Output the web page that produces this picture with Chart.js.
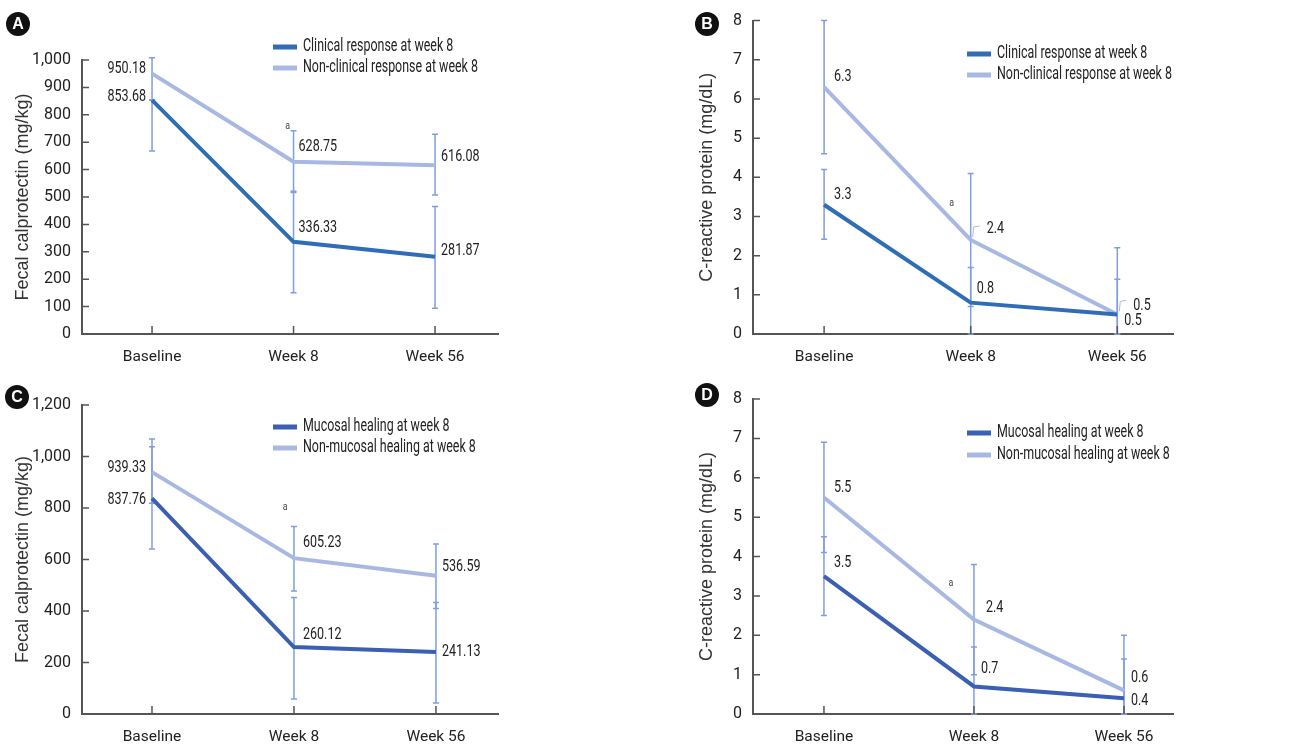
<!DOCTYPE html>
<html>
<head>
<meta charset="utf-8">
<script src="https://cdn.jsdelivr.net/npm/chart.js@4.4.0/dist/chart.umd.min.js"></script>
<style>
  body { margin: 0; background: #fff; }
  .panel { position: absolute; }
</style>
</head>
<body>
<div class="panel" style="left:0;top:0"><canvas id="panel-a" width="660" height="375"></canvas></div>
<div class="panel" style="left:660px;top:0"><canvas id="panel-b" width="654" height="375"></canvas></div>
<div class="panel" style="left:0;top:375px"><canvas id="panel-c" width="660" height="375"></canvas></div>
<div class="panel" style="left:660px;top:375px"><canvas id="panel-d" width="654" height="375"></canvas></div>
<script>
const timepoints = ['Baseline', 'Week 8', 'Week 56'];

// A: fecal calprotectin by clinical response
const fcClinical = [853.68, 336.33, 281.87];
const fcNonClinical = [950.18, 628.75, 616.08];
const fcClinicalErr = [[668, 853], [151, 521], [94, 465]];
const fcNonClinicalErr = [[854, 1008], [516, 742], [507, 729]];

// B: CRP by clinical response
const crpClinical = [3.3, 0.8, 0.5];
const crpNonClinical = [6.3, 2.4, 0.5];
const crpClinicalErr = [[2.42, 4.2], [0, 1.7], [0, 1.4]];
const crpNonClinicalErr = [[4.6, 8.0], [0.7, 4.1], [0, 2.2]];

// C: fecal calprotectin by mucosal healing
const fcMucosal = [837.76, 260.12, 241.13];
const fcNonMucosal = [939.33, 605.23, 536.59];
const fcMucosalErr = [[641, 1038], [58, 452], [43, 433]];
const fcNonMucosalErr = [[818, 1068], [478, 728], [410, 660]];

// D: CRP by mucosal healing
const crpMucosal = [3.5, 0.7, 0.4];
const crpNonMucosal = [5.5, 2.4, 0.6];
const crpMucosalErr = [[2.5, 4.5], [0, 1.7], [0, 1.4]];
const crpNonMucosalErr = [[4.1, 6.9], [1.0, 3.8], [0, 2.0]];

const SANS = "Roboto, 'Liberation Sans', sans-serif";
const REGULAR = "'Liberation Sans', Arial, sans-serif";
const LIGHT = '#a7b8e2';
const ERR = '#7f9ee0';
const AXIS = '#555555';
const TEXT = '#222222';

// the source font is a condensed gothic, so squeeze drawn text sideways
function narrowText(ctx, text, x, y, align, k) {
  ctx.save();
  ctx.translate(x, y);
  ctx.scale(k, 1);
  ctx.textAlign = align;
  ctx.fillText(text, 0, 0);
  ctx.restore();
}

const panelDecor = {
  id: 'panelDecor',
  beforeDatasetsDraw(chart) {
    const {ctx, scales: {x, y}} = chart;
    ctx.save();
    ctx.strokeStyle = ERR;
    ctx.lineWidth = 1.5;
    chart.data.datasets.forEach(ds => {
      (ds.errorBars || []).forEach((r, i) => {
        const px = x.getPixelForValue(i);
        const y1 = y.getPixelForValue(r[0]);
        const y2 = y.getPixelForValue(r[1]);
        ctx.beginPath();
        ctx.moveTo(px, y1); ctx.lineTo(px, y2);
        ctx.moveTo(px - 3, y1); ctx.lineTo(px + 3, y1);
        ctx.moveTo(px - 3, y2); ctx.lineTo(px + 3, y2);
        ctx.stroke();
      });
    });
    ctx.restore();
  },
  afterDraw(chart, args, opts) {
    const {ctx, scales: {x, y}, chartArea} = chart;
    ctx.save();

    // inward tick marks
    ctx.strokeStyle = AXIS;
    ctx.lineWidth = 1.5;
    ctx.beginPath();
    y.ticks.forEach(t => {
      const py = y.getPixelForValue(t.value);
      ctx.moveTo(chartArea.left, py); ctx.lineTo(chartArea.left + 7, py);
    });
    x.ticks.forEach(t => {
      const px = x.getPixelForValue(t.value);
      ctx.moveTo(px, chartArea.bottom); ctx.lineTo(px, chartArea.bottom - 8);
    });
    ctx.stroke();

    // value labels
    ctx.font = '16.5px ' + SANS;
    ctx.fillStyle = TEXT;
    ctx.textBaseline = 'middle';
    opts.labels.forEach(l => {
      const ds = chart.data.datasets[l.ds];
      const v = ds.data[l.i].y;
      const px = x.getPixelForValue(l.i);
      const py = y.getPixelForValue(v);
      narrowText(ctx, v.toFixed(opts.digits), px + l.dx, py + l.dy, l.align || 'left', 0.76);
      if (l.leader) {
        ctx.strokeStyle = LIGHT;
        ctx.lineWidth = 1;
        ctx.beginPath();
        ctx.moveTo(px + 2, py - 3);
        ctx.lineTo(px + 3, py - 13);
        ctx.lineTo(px + 9, py - 14);
        ctx.stroke();
      }
    });

    // significance mark
    ctx.font = '11px ' + SANS;
    ctx.fillStyle = '#444';
    narrowText(ctx, 'a', x.getPixelForValue(opts.note.x), y.getPixelForValue(opts.note.y), 'center', 0.8);

    // legend
    const lg = opts.legend;
    chart.data.datasets.forEach((ds, k) => {
      const ly = lg.y + k * lg.gap;
      ctx.strokeStyle = ds.borderColor;
      ctx.lineWidth = 5;
      ctx.beginPath();
      ctx.moveTo(lg.x, ly); ctx.lineTo(lg.x + 24, ly);
      ctx.stroke();
      ctx.font = '17.5px ' + SANS;
      ctx.fillStyle = TEXT;
      narrowText(ctx, ds.label, lg.x + 30, ly, 'left', 0.71);
    });

    // panel letter
    const lt = opts.letter;
    ctx.fillStyle = '#111';
    ctx.beginPath();
    ctx.arc(lt.x, lt.y, 12, 0, Math.PI * 2);
    ctx.fill();
    ctx.fillStyle = '#fff';
    ctx.font = 'bold 16px ' + REGULAR;
    ctx.textAlign = 'center';
    ctx.fillText(lt.text, lt.x, lt.y + 1);
    ctx.restore();
  }
};

function makePanel(id, p) {
  return new Chart(document.getElementById(id), {
    type: 'line',
    data: {
      datasets: p.series.map(s => ({
        label: s.label,
        data: s.values.map((v, i) => ({x: i, y: v})),
        errorBars: s.err,
        borderColor: s.color,
        borderWidth: 4,
        pointRadius: 0,
        tension: 0,
        fill: false
      }))
    },
    options: {
      responsive: false,
      animation: false,
      layout: { padding: { left: 0, top: p.top, right: p.right, bottom: 0 } },
      scales: {
        x: {
          type: 'linear',
          min: p.xMin,
          max: p.xMax,
          afterBuildTicks: s => { s.ticks = timepoints.map((t, i) => ({value: i})); },
          afterFit: s => { s.height = p.xHeight; },
          ticks: {
            callback: v => timepoints[v],
            font: { family: SANS, size: 15.5 },
            color: TEXT,
            padding: 14,
            maxRotation: 0
          },
          grid: { display: false, drawTicks: false },
          border: { display: true, color: AXIS, width: 2 }
        },
        y: {
          min: 0,
          max: p.yMax,
          afterFit: s => { s.width = p.yWidth; },
          ticks: {
            stepSize: p.yStep,
            callback: v => v.toLocaleString('en-US'),
            font: { family: SANS, size: 16 },
            color: TEXT,
            padding: 11
          },
          grid: { display: false, drawTicks: false },
          border: { display: true, color: AXIS, width: 2 },
          title: {
            display: true,
            text: p.title,
            font: { family: REGULAR, size: 18 },
            color: '#333',
            padding: { top: p.titlePad, bottom: 0 }
          }
        }
      },
      plugins: {
        legend: { display: false },
        tooltip: { enabled: false },
        panelDecor: {
          labels: p.labels,
          digits: p.digits,
          note: p.note,
          legend: p.legend,
          letter: p.letter
        }
      }
    },
    plugins: [panelDecor]
  });
}

makePanel('panel-a', {
  series: [
    { label: 'Clinical response at week 8', values: fcClinical, err: fcClinicalErr, color: '#2f6db6' },
    { label: 'Non-clinical response at week 8', values: fcNonClinical, err: fcNonClinicalErr, color: LIGHT }
  ],
  top: 60, right: 162, xHeight: 41, yWidth: 82,
  xMin: -0.495, xMax: 2.445, yMax: 1000, yStep: 100,
  title: 'Fecal calprotectin (mg/kg)', titlePad: 12, digits: 2,
  labels: [
    { ds: 1, i: 0, dx: -6, dy: -5, align: 'right' },
    { ds: 0, i: 0, dx: -6, dy: -3, align: 'right' },
    { ds: 1, i: 1, dx: 5, dy: -15 },
    { ds: 0, i: 1, dx: 5, dy: -14 },
    { ds: 1, i: 2, dx: 6, dy: -8 },
    { ds: 0, i: 2, dx: 6, dy: -6 }
  ],
  note: { x: 0.958, y: 759 },
  legend: { x: 273, y: 47, gap: 21 },
  letter: { x: 18, y: 24, text: 'A' }
});

makePanel('panel-b', {
  series: [
    { label: 'Clinical response at week 8', values: crpClinical, err: crpClinicalErr, color: '#2f6db6' },
    { label: 'Non-clinical response at week 8', values: crpNonClinical, err: crpNonClinicalErr, color: LIGHT }
  ],
  top: 20, right: 141, xHeight: 41, yWidth: 93,
  xMin: -0.485, xMax: 2.38, yMax: 8, yStep: 1,
  title: 'C-reactive protein (mg/dL)', titlePad: 36, digits: 1,
  labels: [
    { ds: 1, i: 0, dx: 10, dy: -10 },
    { ds: 0, i: 0, dx: 10, dy: -10 },
    { ds: 1, i: 1, dx: 16, dy: -11, leader: true },
    { ds: 0, i: 1, dx: 6, dy: -14 },
    { ds: 1, i: 2, dx: 16, dy: -9, leader: true },
    { ds: 0, i: 2, dx: 7, dy: 6 }
  ],
  note: { x: 0.87, y: 3.34 },
  legend: { x: 307, y: 54, gap: 21 },
  letter: { x: 47, y: 24, text: 'B' }
});

makePanel('panel-c', {
  series: [
    { label: 'Mucosal healing at week 8', values: fcMucosal, err: fcMucosalErr, color: '#3b5fb2' },
    { label: 'Non-mucosal healing at week 8', values: fcNonMucosal, err: fcNonMucosalErr, color: LIGHT }
  ],
  top: 30, right: 162, xHeight: 36, yWidth: 82,
  xMin: -0.493, xMax: 2.437, yMax: 1200, yStep: 200,
  title: 'Fecal calprotectin (mg/kg)', titlePad: 12, digits: 2,
  labels: [
    { ds: 1, i: 0, dx: -6, dy: -4, align: 'right' },
    { ds: 0, i: 0, dx: -6, dy: 2, align: 'right' },
    { ds: 1, i: 1, dx: 9, dy: -15 },
    { ds: 0, i: 1, dx: 9, dy: -12 },
    { ds: 1, i: 2, dx: 6, dy: -9 },
    { ds: 0, i: 2, dx: 6, dy: 0 }
  ],
  note: { x: 0.937, y: 804 },
  legend: { x: 273, y: 52, gap: 21 },
  letter: { x: 17, y: 22, text: 'C' }
});

makePanel('panel-d', {
  series: [
    { label: 'Mucosal healing at week 8', values: crpMucosal, err: crpMucosalErr, color: '#3b5fb2' },
    { label: 'Non-mucosal healing at week 8', values: crpNonMucosal, err: crpNonMucosalErr, color: LIGHT }
  ],
  top: 24, right: 141, xHeight: 36, yWidth: 93,
  xMin: -0.473, xMax: 2.327, yMax: 8, yStep: 1,
  title: 'C-reactive protein (mg/dL)', titlePad: 36, digits: 1,
  labels: [
    { ds: 1, i: 0, dx: 10, dy: -10 },
    { ds: 0, i: 0, dx: 10, dy: -13 },
    { ds: 1, i: 1, dx: 12, dy: -12 },
    { ds: 0, i: 1, dx: 7, dy: -18 },
    { ds: 1, i: 2, dx: 7, dy: -13 },
    { ds: 0, i: 2, dx: 7, dy: 3 }
  ],
  note: { x: 0.847, y: 3.33 },
  legend: { x: 307, y: 58, gap: 22 },
  letter: { x: 47, y: 20, text: 'D' }
});
</script>
</body>
</html>
